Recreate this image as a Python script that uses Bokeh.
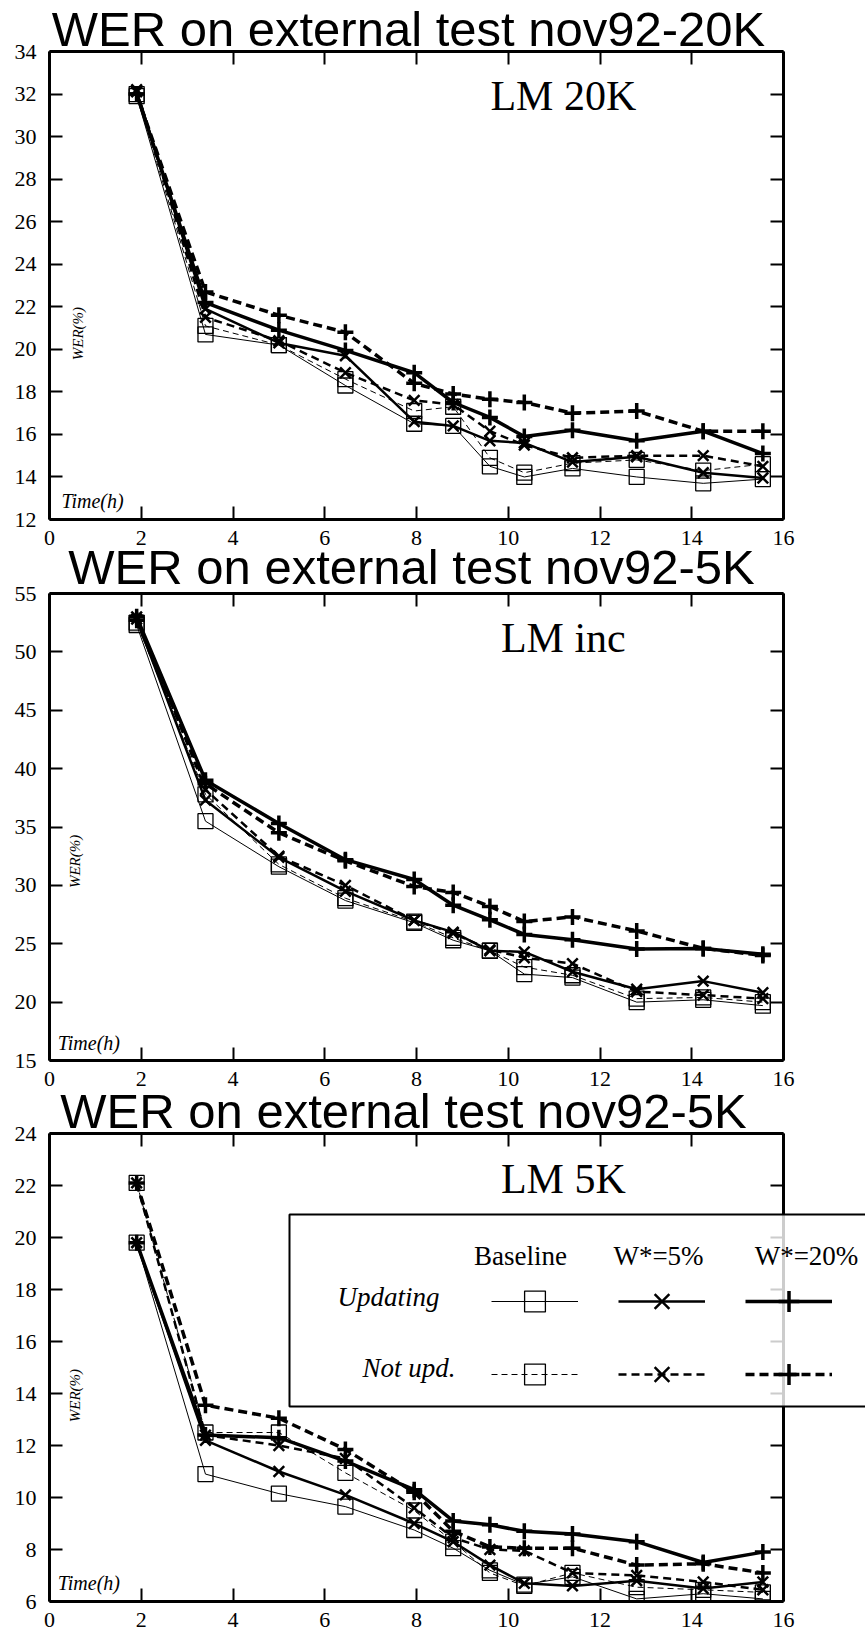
import math
from bokeh.plotting import figure
from bokeh.models import (Range1d, LinearAxis, FixedTicker, Label, BoxAnnotation,
                          Legend, LegendItem, ColumnDataSource, GridBox)
from bokeh.layouts import column
from bokeh.embed import file_html
from bokeh.resources import INLINE

# ---------------- data ----------------
time_h = [1.9, 3.4, 5.0, 6.45, 7.95, 8.8, 9.6, 10.35, 11.4, 12.8, 14.25, 15.55]

# Panel 1 : LM 20K
p1_base_upd = [31.9, 20.7, 20.2, 18.3, 16.5, 16.4, 14.5, 14.0, 14.4, 14.0, 13.7, 13.9]
p1_base_not = [32.0, 21.1, 20.2, 18.6, 17.1, 17.3, 14.9, 14.2, 14.65, 14.8, 14.3, 14.6]
p1_w5_upd = [32.1, 21.9, 20.3, 19.7, 16.6, 16.4, 15.7, 15.6, 14.7, 14.95, 14.2, 13.95]
p1_w5_not = [32.2, 21.5, 20.4, 18.9, 17.6, 17.4, 16.15, 15.5, 14.9, 15.0, 15.0, 14.5]
p1_w20_upd = [32.0, 22.2, 20.9, 19.95, 18.9, 17.5, 16.8, 15.9, 16.2, 15.7, 16.15, 15.1]
p1_w20_not = [32.0, 22.7, 21.6, 20.8, 18.4, 17.9, 17.65, 17.5, 17.0, 17.1, 16.15, 16.15]

# Panel 2 : LM inc
p2_base_upd = [52.3, 35.5, 31.6, 28.7, 26.8, 25.3, 24.4, 22.4, 22.1, 20.0, 20.2, 19.7]
p2_base_not = [52.5, 37.8, 31.8, 28.9, 26.9, 25.5, 24.4, 23.0, 22.3, 20.3, 20.4, 20.0]
p2_w5_upd = [52.8, 37.3, 32.4, 29.5, 27.0, 26.0, 24.4, 24.3, 22.6, 21.1, 21.8, 20.8]
p2_w5_not = [53.0, 38.2, 32.5, 30.0, 27.0, 25.9, 24.5, 23.8, 23.3, 20.9, 20.6, 20.3]
p2_w20_upd = [53.0, 39.0, 35.3, 32.2, 30.5, 28.3, 27.05, 25.8, 25.35, 24.55, 24.6, 24.1]
p2_w20_not = [52.7, 38.7, 34.5, 32.1, 29.9, 29.4, 28.2, 26.9, 27.3, 26.1, 24.6, 24.0]

# Panel 3 : LM 5K
p3_base_upd = [19.8, 10.9, 10.15, 9.65, 8.75, 8.05, 7.2, 6.65, 6.95, 6.1, 6.3, 6.1]
p3_base_not = [22.1, 12.5, 12.5, 10.95, 9.5, 8.3, 7.1, 6.6, 7.1, 6.55, 6.45, 6.35]
p3_w5_upd = [19.8, 12.2, 11.0, 10.1, 9.0, 8.3, 7.4, 6.7, 6.6, 6.8, 6.5, 6.75]
p3_w5_not = [22.1, 12.4, 12.0, 11.5, 9.6, 8.45, 8.0, 7.95, 7.1, 7.0, 6.75, 6.45]
p3_w20_upd = [19.8, 12.4, 12.3, 11.4, 10.3, 9.1, 8.95, 8.7, 8.6, 8.3, 7.5, 7.9]
p3_w20_not = [22.1, 13.55, 13.05, 11.85, 10.2, 8.7, 8.1, 8.05, 8.05, 7.4, 7.45, 7.1]

x_ticks = [0, 2, 4, 6, 8, 10, 12, 14, 16]
p1_y_ticks = [12, 14, 16, 18, 20, 22, 24, 26, 28, 30, 32, 34]
p2_y_ticks = [15, 20, 25, 30, 35, 40, 45, 50, 55]
p3_y_ticks = [6, 8, 10, 12, 14, 16, 18, 20, 22, 24]

titles = ["WER on external test nov92-20K", "WER on external test nov92-5K",
          "WER on external test nov92-5K"]
lm_texts = ["LM 20K", "LM inc", "LM 5K"]
col_headers = ["Baseline", "W*=5%", "W*=20%"]
row_headers = ["Updating", "Not upd."]

# ---------------- styles ----------------
KEYS = ["base_upd", "base_not", "w5_upd", "w5_not", "w20_upd", "w20_not"]
STY = {
    "base_upd": dict(lw=1.0, dash="solid", marker="square", size=15, mlw=1.3),
    "base_not": dict(lw=1.0, dash="6 4", marker="square", size=15, mlw=1.3),
    "w5_upd": dict(lw=2.5, dash="solid", marker="x", size=15, mlw=2.5),
    "w5_not": dict(lw=2.5, dash="8 5", marker="x", size=15, mlw=2.5),
    "w20_upd": dict(lw=3.5, dash="solid", marker="cross", size=16, mlw=3.5),
    "w20_not": dict(lw=3.5, dash="9 5", marker="cross", size=16, mlw=3.5),
}
SERIF = "Liberation Serif"
SANS = "Liberation Sans"
W, H = 865, 1632


def style_axis(ax, ticks, labels, standoff):
    ax.ticker = FixedTicker(ticks=ticks)
    ax.axis_line_width = 3
    ax.axis_line_color = "black"
    ax.major_tick_in = 13
    ax.major_tick_out = 0
    ax.major_tick_line_width = 2
    ax.major_tick_line_color = "black"
    ax.minor_tick_line_color = None
    ax.major_label_text_font = SERIF
    if labels:
        ax.major_label_text_font_size = "22px"
        ax.major_label_text_color = "black"
    else:
        ax.major_label_text_font_size = "1px"
        ax.major_label_text_color = None
    ax.major_label_standoff = standoff


def add_series(p, series, visible=True):
    rends = {}
    for k in KEYS:
        s = STY[k]
        src = ColumnDataSource(dict(x=time_h, y=series[k]))
        lr = p.line("x", "y", source=src, line_color="black", line_width=s["lw"],
                    line_dash=s["dash"], visible=visible)
        sr = p.scatter("x", "y", source=src, marker=s["marker"], size=s["size"],
                       line_color="black", line_width=s["mlw"], fill_alpha=0,
                       visible=visible)
        rends[k] = (lr, sr)
    return rends


def make_panel(series, y_lo, y_hi, y_ticks, height, top, bottom, left, right,
               lm, lm_y, wer_x, wer_y, time_x, time_y):
    p = figure(width=W, height=height, title=None,
               x_range=Range1d(0, 16), y_range=Range1d(y_lo, y_hi),
               output_backend="svg", toolbar_location=None,
               min_border_top=top, min_border_bottom=bottom,
               min_border_left=left, min_border_right=right)
    p.grid.visible = False
    p.outline_line_color = None
    p.background_fill_color = "white"
    p.border_fill_color = "white"
    top_ax = LinearAxis()
    right_ax = LinearAxis()
    p.add_layout(top_ax, "above")
    p.add_layout(right_ax, "right")
    style_axis(p.below[0], x_ticks, True, 11)
    style_axis(p.left[0], y_ticks, True, 13)
    style_axis(top_ax, x_ticks, False, 0)
    style_axis(right_ax, y_ticks, False, 0)

    add_series(p, series)

    p.add_layout(Label(x=11.2, y=lm_y, text=lm, text_font=SERIF,
                       text_font_size="42px", text_align="center",
                       text_baseline="middle", text_color="black"))
    p.add_layout(Label(x=wer_x, y=wer_y, text="WER(%)", text_font=SERIF,
                       text_font_style="italic", text_font_size="15px",
                       angle=math.pi / 2, text_align="center",
                       text_baseline="middle", text_color="black"))
    p.add_layout(Label(x=time_x, y=time_y, text="Time(h)", text_font=SERIF,
                       text_font_style="italic", text_font_size="20px",
                       text_align="left", text_baseline="middle",
                       text_color="black"))
    return p


s1 = dict(base_upd=p1_base_upd, base_not=p1_base_not, w5_upd=p1_w5_upd,
          w5_not=p1_w5_not, w20_upd=p1_w20_upd, w20_not=p1_w20_not)
s2 = dict(base_upd=p2_base_upd, base_not=p2_base_not, w5_upd=p2_w5_upd,
          w5_not=p2_w5_not, w20_upd=p2_w20_upd, w20_not=p2_w20_not)
s3 = dict(base_upd=p3_base_upd, base_not=p3_base_not, w5_upd=p3_w5_upd,
          w5_not=p3_w5_not, w20_upd=p3_w20_upd, w20_not=p3_w20_not)

# panel canvases: 0-548, 548-1089, 1089-1632
f1 = make_panel(s1, 12, 34, p1_y_ticks, 548, 51, 29, 45, 82,
                lm_texts[0], 31.9, 0.63, 20.74, 0.26, 12.88)
f2 = make_panel(s2, 15, 55, p2_y_ticks, 541, 45, 29, 48, 79,
                lm_texts[1], 51.2, 0.55, 32.05, 0.18, 16.5)
f3 = make_panel(s3, 6, 24, p3_y_ticks, 543, 44, 31, 49, 79,
                lm_texts[2], 22.25, 0.55, 13.92, 0.18, 6.72)

# ---------------- full-page overlay: titles + legend ----------------
ov = figure(width=W, height=H, title=None, x_range=Range1d(0, W),
            y_range=Range1d(H, 0), output_backend="svg", toolbar_location=None,
            x_axis_type=None, y_axis_type=None, min_border=0, min_border_top=0,
            min_border_bottom=0, min_border_left=0, min_border_right=0)
ov.outline_line_color = None
ov.background_fill_color = None
ov.border_fill_color = None

for txt, cx, cy in zip(titles, [408, 411, 403], [28.0, 566.0, 1110.0]):
    ov.add_layout(Label(x=cx, y=cy, text=txt, text_font=SANS,
                        text_font_size="49px", text_align="center",
                        text_baseline="middle", text_color="black"))

ov_r = add_series(ov, s3, visible=False)

ov.add_layout(BoxAnnotation(left=289, right=880, top=1214, bottom=1406,
                            fill_color="white", fill_alpha=0.8,
                            line_color="black", line_alpha=1.0, line_width=2))

for keys, vy in ((["base_upd", "w5_upd", "w20_upd"], H - 1327),
                 (["base_not", "w5_not", "w20_not"], H - 1400)):
    items = [LegendItem(label=" ", renderers=list(ov_r[k])) for k in keys]
    leg = Legend(items=items, location=(491, vy), orientation="horizontal",
                 glyph_width=87, glyph_height=52, label_width=0, label_standoff=0,
                 label_text_font_size="1px", spacing=40, padding=0, margin=0,
                 border_line_color=None, background_fill_alpha=0)
    ov.add_layout(leg)

for txt, cx in zip(col_headers, [520, 658, 806]):
    ov.add_layout(Label(x=cx, y=1255.9, text=txt, text_font=SERIF,
                        text_font_size="27px", text_align="center",
                        text_baseline="middle", text_color="black"))
for txt, rx, cy in zip(row_headers, [439, 455], [1296.9, 1367.9]):
    ov.add_layout(Label(x=rx, y=cy, text=txt, text_font=SERIF,
                        text_font_style="italic", text_font_size="27px",
                        text_align="right", text_baseline="middle",
                        text_color="black"))

layout = GridBox(children=[(column(f1, f2, f3, spacing=0), 0, 0),
                           (column(ov), 0, 0)])
open("out.html", "w").write(file_html(layout, INLINE))
